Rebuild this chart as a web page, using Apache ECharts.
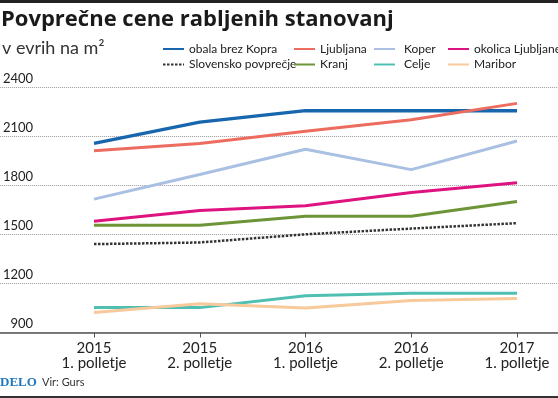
<!DOCTYPE html>
<html>
<head>
<meta charset="utf-8">
<script src="https://cdn.jsdelivr.net/npm/echarts@6/dist/echarts.min.js"></script>
<style>
html,body{margin:0;padding:0;background:#fff;}
#chart{width:558px;height:398px;}
</style>
</head>
<body>
<div id="chart"></div>
<script>
var categories = ['2015\n1. polletje', '2015\n2. polletje', '2016\n1. polletje', '2016\n2. polletje', '2017\n1. polletje'];
var obalaBrezKopra = [2055, 2185, 2255, 2255, 2255];
var ljubljana = [2010, 2055, 2130, 2200, 2300];
var koper = [1715, 1865, 2020, 1895, 2070];
var okolicaLjubljane = [1580, 1645, 1675, 1755, 1815];
var slovenskoPovprecje = [1440, 1450, 1500, 1535, 1568];
var kranj = [1555, 1555, 1610, 1610, 1700];
var celje = [1052, 1052, 1125, 1140, 1140];
var maribor = [1022, 1075, 1050, 1095, 1107];
var yTicks = [900, 1200, 1500, 1800, 2100, 2400];

var chart = echarts.init(document.getElementById('chart'), null, {renderer: 'canvas'});

var legendText = {fontFamily: 'Lato', fontSize: 12, color: '#222'};

function line(name, data, color, extra) {
  var s = {
    name: name, type: 'line', data: data, xAxisIndex: 1, yAxisIndex: 1,
    symbol: 'none', smooth: false,
    lineStyle: {color: color, width: 3},
    itemStyle: {color: color},
    emphasis: {disabled: true}, animation: false
  };
  if (extra) { Object.assign(s.lineStyle, extra); }
  return s;
}

function legendCol(left, names, textPad) {
  var ts = Object.assign({}, legendText);
  if (textPad) { ts.padding = [0, 0, 0, textPad]; }
  return {left: left, top: 43, orient: 'vertical', itemWidth: 21, itemHeight: 12, itemGap: 3.5, padding: 0,
          data: names, textStyle: ts, selectedMode: false,
          itemStyle: {opacity: 0}};
}

var option = {
  animation: false,
  title: [
    {text: 'Povprečne cene rabljenih stanovanj', left: 1, top: 9, padding: 0,
     textStyle: {fontFamily: 'Open Sans', fontWeight: 'bold', fontSize: 22, color: '#1a1a1a'}},
    {text: 'v evrih na m²', left: 2, top: 39, padding: 0,
     textStyle: {fontFamily: 'Lato', fontWeight: 'normal', fontSize: 18, color: '#333'}}
  ],
  legend: [
    legendCol(162, ['obala brez Kopra', 'Slovensko povprečje']),
    legendCol(293, ['Ljubljana', 'Kranj']),
    legendCol(373, ['Koper', 'Celje'], 4),
    legendCol(447, ['okolica Ljubljane', 'Maribor'])
  ],
  grid: [
    {left: 0, right: 0, top: 87, bottom: 65.5, containLabel: false},
    {left: 94, right: 41, top: 87, bottom: 65.5, containLabel: false}
  ],
  xAxis: [
    {type: 'value', gridIndex: 0, min: 0, max: 1,
     axisLine: {show: true, onZero: false, lineStyle: {color: '#555', width: 1.5}},
     axisTick: {show: false}, axisLabel: {show: false}, splitLine: {show: false}},
    {type: 'category', gridIndex: 1, data: categories, boundaryGap: false,
     axisLine: {show: false},
     axisTick: {show: true, length: 5, lineStyle: {color: '#555', width: 1}},
     axisLabel: {margin: 8, fontFamily: 'Lato', fontSize: 15, lineHeight: 15, color: '#222', align: 'center'},
     splitLine: {show: false}}
  ],
  yAxis: [
    {type: 'value', gridIndex: 0, min: yTicks[0], max: yTicks[yTicks.length - 1], interval: 300,
     axisLine: {show: false}, axisTick: {show: false},
     axisLabel: {inside: true, margin: 33, align: 'right', verticalAlign: 'bottom',
                 padding: [0, 0, 2, 0], fontFamily: 'Lato', fontSize: 13, lineHeight: 13, color: '#222',
                 showMinLabel: true, showMaxLabel: true,
                 formatter: function (v) { return String(v); }},
     splitLine: {show: true, lineStyle: {color: '#9a9a9a', width: 1, type: [1, 1]}}},
    {type: 'value', gridIndex: 1, min: yTicks[0], max: yTicks[yTicks.length - 1], interval: 300, show: false,
     splitLine: {show: false}}
  ],
  series: [
    line('obala brez Kopra', obalaBrezKopra, '#1766ae', {width: 3.3}),
    line('Ljubljana', ljubljana, '#ec6c5f'),
    line('Koper', koper, '#a9c0e2'),
    line('okolica Ljubljane', okolicaLjubljane, '#df1380'),
    line('Slovensko povprečje', slovenskoPovprecje, '#333333', {width: 2.5, type: [2.5, 1.5]}),
    line('Kranj', kranj, '#6d9437'),
    line('Celje', celje, '#4fbfb2'),
    line('Maribor', maribor, '#f7c99b')
  ],
  graphic: [
    {type: 'rect', left: 0, top: 0, shape: {width: 558, height: 3}, style: {fill: '#222'}},
    {type: 'rect', left: 0, top: 396, shape: {width: 558, height: 2}, style: {fill: '#333'}},
    {type: 'text', left: 0, top: 376, style: {text: 'DELO', fill: '#1f78c1',
      font: 'bold 13px "Liberation Serif", "DejaVu Serif", serif'}},
    {type: 'text', left: 42, top: 377, style: {text: 'Vir: Gurs', fill: '#333',
      font: '11px Lato, sans-serif'}}
  ]
};
chart.setOption(option);
</script>
</body>
</html>
